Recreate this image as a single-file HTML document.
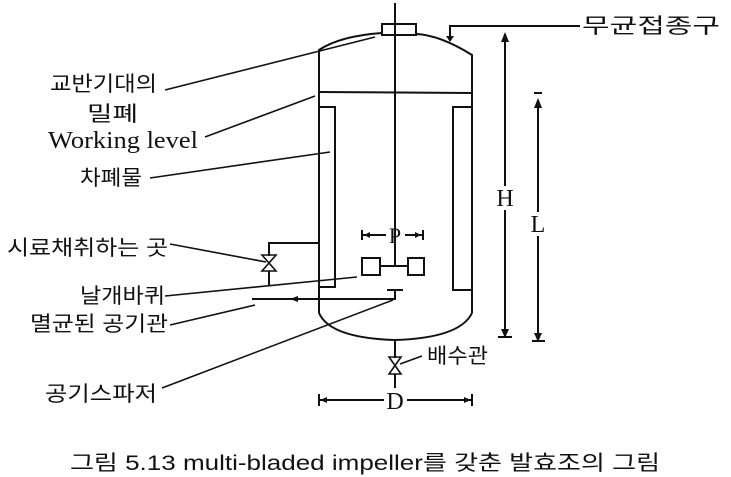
<!DOCTYPE html>
<html><head><meta charset="utf-8"><style>
html,body{margin:0;padding:0;background:#fff;}
svg{display:block;}
text{font-family:"Liberation Serif","Noto Sans CJK KR",serif;fill:#111;}
.k{font-family:"Liberation Sans","Noto Sans CJK KR",sans-serif;font-size:21px;}
</style></head><body>
<svg width="731" height="477" viewBox="0 0 731 477" xmlns="http://www.w3.org/2000/svg">
<g stroke="#111" stroke-width="2" fill="none">
<path d="M319,313 L319,50 Q340,36 382,33"/>
<path d="M416,34 Q440,35 472,55 L472,313"/>
<path d="M319,313 Q330,338 395,340 Q460,338 472,313"/>
<rect x="382" y="24" width="34" height="11"/>
<line x1="395" y1="3" x2="395" y2="266"/>
<line x1="319" y1="92" x2="472" y2="93"/>
<path d="M319,107 L335,107 L335,287 L319,287"/>
<path d="M472,107 L453,107 L453,290 L472,290"/>
<line x1="380" y1="266" x2="408" y2="266"/>
<rect x="362" y="258" width="18" height="17"/>
<rect x="408" y="258" width="16" height="17"/>
<line x1="362" y1="230" x2="362" y2="240"/><line x1="423" y1="230" x2="423" y2="240"/>
<line x1="362" y1="235" x2="386" y2="235"/><line x1="405" y1="235" x2="423" y2="235"/>
<line x1="387" y1="290" x2="403" y2="290"/><line x1="395" y1="290" x2="395" y2="300"/>
<line x1="252" y1="299" x2="395" y2="299"/>
<path d="M319,243 L269,243 L269,256"/><line x1="269" y1="271" x2="269" y2="285"/>
<path d="M262,255 L276,255 L262,271 L276,271 Z" stroke-width="1.6"/>
<line x1="395" y1="340" x2="395" y2="358"/><line x1="395" y1="374" x2="395" y2="388"/>
<path d="M389,357 L401,357 L389,374 L401,374 Z" stroke-width="1.6"/>
<line x1="505" y1="34" x2="505" y2="186"/><line x1="505" y1="210" x2="505" y2="337"/><line x1="498" y1="337" x2="512" y2="337"/>
<line x1="538" y1="100" x2="538" y2="212"/><line x1="538" y1="236" x2="538" y2="341"/><line x1="532" y1="341" x2="545" y2="341"/><line x1="534" y1="93" x2="542" y2="93"/>
<line x1="319" y1="394" x2="319" y2="406"/><line x1="472" y1="394" x2="472" y2="406"/>
<line x1="319" y1="400" x2="384" y2="400"/><line x1="407" y1="400" x2="472" y2="400"/>
<line x1="449" y1="26" x2="580" y2="26"/><line x1="450" y1="26" x2="450" y2="38"/>
<g stroke-width="1.6">
<line x1="165" y1="90" x2="375" y2="37"/>
<line x1="205" y1="137" x2="315" y2="96"/>
<line x1="150" y1="178" x2="330" y2="152"/>
<line x1="170" y1="244" x2="266" y2="262"/>
<line x1="165" y1="296" x2="357" y2="277"/>
<line x1="170" y1="325" x2="255" y2="305"/>
<line x1="162" y1="388" x2="393" y2="300"/>
<line x1="400" y1="364" x2="422" y2="356"/>
</g>
</g>
<g fill="#111">
<path d="M446,36 L454,36 L450,42 Z"/>
<path d="M501,42 L509,42 L505,32 Z"/>
<path d="M501,329 L509,329 L505,338 Z"/>
<path d="M534,108 L542,108 L538,98 Z"/>
<path d="M534,333 L542,333 L538,342 Z"/>
<path d="M370,232 L370,238 L364,235 Z"/><path d="M415,232 L415,238 L421,235 Z"/>
<path d="M327,397 L327,403 L320,400 Z"/><path d="M464,397 L464,403 L471,400 Z"/>
<path d="M298,296 L298,302 L290,299 Z"/>
</g>
<text x="395" y="243" font-size="22" text-anchor="middle">P</text>
<text x="505" y="206" font-size="24" text-anchor="middle">H</text>
<text x="538" y="232" font-size="24" text-anchor="middle">L</text>
<text x="395" y="409" font-size="24" text-anchor="middle">D</text>
<text class="k" x="582" y="33" textLength="138" lengthAdjust="spacingAndGlyphs">무균접종구</text>
<text class="k" x="50" y="91" textLength="107" lengthAdjust="spacingAndGlyphs">교반기대의</text>
<text class="k" x="87" y="121" textLength="51" lengthAdjust="spacingAndGlyphs">밀폐</text>
<text x="48" y="148" font-size="24" textLength="150" lengthAdjust="spacingAndGlyphs">Working level</text>
<text class="k" x="80" y="185" textLength="62" lengthAdjust="spacingAndGlyphs">차폐물</text>
<text class="k" x="7" y="255" textLength="161" lengthAdjust="spacingAndGlyphs">시료채취하는 곳</text>
<text class="k" x="80" y="303" textLength="85" lengthAdjust="spacingAndGlyphs">날개바퀴</text>
<text class="k" x="30" y="331" textLength="138" lengthAdjust="spacingAndGlyphs">멸균된 공기관</text>
<text class="k" x="45" y="401" textLength="112" lengthAdjust="spacingAndGlyphs">공기스파저</text>
<text class="k" x="427" y="363" textLength="61" lengthAdjust="spacingAndGlyphs">배수관</text>
<text class="k" x="70" y="470" textLength="590" lengthAdjust="spacingAndGlyphs">그림 5.13 multi-bladed impeller를 갖춘 발효조의 그림</text>
</svg>
</body></html>
